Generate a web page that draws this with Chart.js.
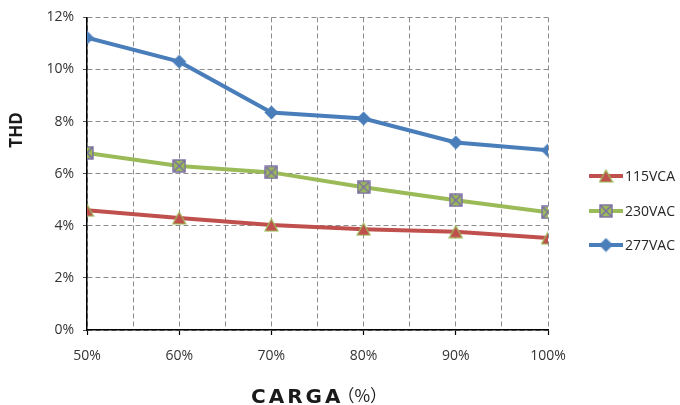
<!DOCTYPE html>
<html><head><meta charset="utf-8">
<script src="https://cdn.jsdelivr.net/npm/chart.js@4/dist/chart.umd.min.js"></script>
<style>html,body{margin:0;padding:0;background:#fff}</style>
</head><body>
<canvas id="c" width="680" height="405" style="width:680px;height:405px;display:block"></canvas>
<script>
// ---- data ----
const loads = [50, 60, 70, 80, 90, 100];           // CARGA (%)
const seriesNames = ['115VCA', '230VAC', '277VAC'];
const thd115 = [4.6, 4.3, 4.03, 3.87, 3.77, 3.53];
const thd230 = [6.8, 6.3, 6.05, 5.48, 4.98, 4.52];
const thd277 = [11.22, 10.3, 8.35, 8.12, 7.2, 6.9];
const yTicks = [0, 2, 4, 6, 8, 10, 12];
const xTitle = 'CARGA（%）';
const yTitle = 'THD';

const RED = '#C0504D', GREEN = '#9BBB59', BLUE = '#4A7EBB', PURPLE = '#7B6BA8';

function mk(w, h, fn) { const c = document.createElement('canvas'); c.width = w; c.height = h; fn(c.getContext('2d')); return c; }
const triMarker = mk(15, 14, g => {
  g.beginPath(); g.moveTo(7.5, 1); g.lineTo(14, 13); g.lineTo(1, 13); g.closePath();
  g.fillStyle = RED; g.fill(); g.lineWidth = 1.2; g.strokeStyle = GREEN; g.stroke();
});
const xMarker = mk(14, 14, g => {
  g.fillStyle = GREEN; g.fillRect(1, 1, 12, 12);
  g.strokeStyle = PURPLE; g.lineWidth = 1.4;
  g.strokeRect(1, 1, 12, 12);
  g.beginPath(); g.moveTo(1.5, 1.5); g.lineTo(12.5, 12.5); g.moveTo(12.5, 1.5); g.lineTo(1.5, 12.5); g.stroke();
});
const diaMarker = mk(15, 15, g => {
  g.beginPath(); g.moveTo(7.5, 0.5); g.lineTo(14.5, 7.5); g.lineTo(7.5, 14.5); g.lineTo(0.5, 7.5); g.closePath();
  g.fillStyle = BLUE; g.fill();
});

const toPts = arr => arr.map((v, i) => ({ x: loads[i], y: v }));
const series = [
  { name: seriesNames[0], values: thd115, color: RED, marker: triMarker },
  { name: seriesNames[1], values: thd230, color: GREEN, marker: xMarker },
  { name: seriesNames[2], values: thd277, color: BLUE, marker: diaMarker }
];

const legendY = [176, 211, 245];
const extras = {
  id: 'extras',
  afterDraw(chart) {
    const ctx = chart.ctx;
    ctx.save();
    // legend
    series.forEach((s, i) => {
      const y = legendY[i];
      ctx.strokeStyle = s.color; ctx.lineWidth = 4; ctx.lineCap = 'butt';
      ctx.beginPath(); ctx.moveTo(589, y); ctx.lineTo(623, y); ctx.stroke();
      ctx.drawImage(s.marker, 606 - s.marker.width / 2, y - s.marker.height / 2);
      ctx.fillStyle = '#262626';
      ctx.font = '14px "Open Sans"';
      ctx.textAlign = 'left'; ctx.textBaseline = 'middle';
      ctx.fillText(s.name, 625, y + 1);
    });
    // x axis title: latin part spaced, bracket part plain
    const m = xTitle.match(/^([^（]*)(.*)$/);
    ctx.fillStyle = '#1a1a1a';
    ctx.textAlign = 'left'; ctx.textBaseline = 'alphabetic';
    ctx.font = 'bold 20px "DejaVu Sans"';
    ctx.letterSpacing = '3px';
    ctx.fillText(m[1], 251, 403);
    const w1 = ctx.measureText(m[1]).width;
    ctx.letterSpacing = '0px';
    ctx.font = '17px "Noto Sans CJK SC"';
    ctx.fillText(m[2], 251 + w1 - 6, 402);
    // y axis title
    ctx.translate(22, 130); ctx.rotate(-Math.PI / 2);
    ctx.font = 'bold 17px "Open Sans"';
    ctx.textAlign = 'center'; ctx.textBaseline = 'alphabetic';
    ctx.fillText(yTitle, 0, 0);
    ctx.restore();
  }
};

new Chart(document.getElementById('c'), {
  type: 'line',
  data: {
    datasets: series.map(s => ({
      label: s.name,
      data: toPts(s.values),
      borderColor: s.color,
      backgroundColor: s.color,
      borderWidth: 4,
      pointStyle: s.marker,
      pointRadius: 7,
      pointHoverRadius: 7,
      tension: 0,
      fill: false
    }))
  },
  options: {
    responsive: false,
    devicePixelRatio: 1,
    animation: false,
    events: [],
    layout: { padding: { top: 17, right: 132, left: 0, bottom: 0 } },
    plugins: { legend: { display: false }, tooltip: { enabled: false } },
    scales: {
      x: {
        type: 'linear', min: loads[0], max: loads[loads.length - 1],
        afterFit: s => { s.height = 75; },
        afterBuildTicks: s => {
          const t = [];
          for (let v = loads[0]; v <= loads[loads.length - 1]; v += 5) t.push({ value: v });
          s.ticks = t;
        },
        ticks: {
          autoSkip: false, maxRotation: 0, padding: 13,
          callback: v => (loads.includes(v) ? v + '%' : ''),
          font: { family: 'Open Sans', size: 14 }, color: '#333'
        },
        grid: {
          color: '#8c8c8c', lineWidth: 1,
          tickLength: 5,
          tickColor: c => (c.tick && loads.includes(c.tick.value) ? '#000' : 'rgba(0,0,0,0)'),
          tickWidth: 1.2
        },
        border: { display: true, color: '#000', width: 1.5, dash: [5, 3] }
      },
      y: {
        min: 0, max: 12,
        afterFit: s => { s.width = 87; },
        afterBuildTicks: s => { s.ticks = yTicks.map(v => ({ value: v })); },
        ticks: {
          padding: 9,
          callback: v => v + '%',
          font: { family: 'Open Sans', size: 14 }, color: '#333'
        },
        grid: { color: '#8c8c8c', lineWidth: 1, tickLength: 4, tickColor: '#555', tickWidth: 1 },
        border: { display: true, color: '#000', width: 1.5, dash: [5, 3] }
      }
    }
  },
  plugins: [extras]
});
</script>
</body></html>
